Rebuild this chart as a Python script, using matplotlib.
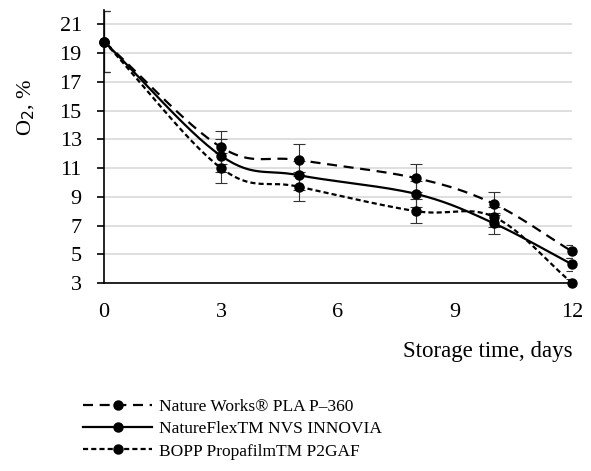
import numpy as np
import matplotlib
matplotlib.use("Agg")
import matplotlib.pyplot as plt
from matplotlib.lines import Line2D

plt.rcParams['font.family'] = ['Liberation Serif', 'DejaVu Serif']

days = [0, 3, 5, 8, 10, 12]
pla = [19.8, 12.45, 11.55, 10.3, 8.5, 5.2]
pla_err = [2.1, 1.15, 1.1, 1.0, 0.8, 0.45]
nflex = [19.8, 11.85, 10.5, 9.2, 7.15, 4.3]
nflex_err = [2.1, 1.15, 1.0, 0.9, 0.75, 0.45]
bopp = [19.8, 11.0, 9.7, 8.0, 7.6, 3.0]
bopp_err = [2.1, 1.05, 1.0, 0.85, 0.7, 0.3]
labels = ["Nature Works® PLA P–360", "NatureFlexTM NVS INNOVIA", "BOPP PropafilmTM P2GAF"]
xticks = [0, 3, 6, 9, 12]
yticks = [3, 5, 7, 9, 11, 13, 15, 17, 19, 21]


def smooth(x, y, n=30, t=0.5):
    x = np.asarray(x, float); y = np.asarray(y, float)
    px = np.concatenate([[2 * x[0] - x[1]], x, [2 * x[-1] - x[-2]]])
    py = np.concatenate([[2 * y[0] - y[1]], y, [2 * y[-1] - y[-2]]])
    xs, ys = [], []
    for i in range(1, len(px) - 2):
        p0 = np.array([px[i - 1], py[i - 1]]); p1 = np.array([px[i], py[i]])
        p2 = np.array([px[i + 1], py[i + 1]]); p3 = np.array([px[i + 2], py[i + 2]])
        c1 = p1 + (p2 - p0) * t / 3
        c2 = p2 - (p3 - p1) * t / 3
        s = np.linspace(0, 1, n)[:, None]
        pts = (1 - s) ** 3 * p1 + 3 * (1 - s) ** 2 * s * c1 + 3 * (1 - s) * s ** 2 * c2 + s ** 3 * p2
        xs.extend(pts[:, 0]); ys.extend(pts[:, 1])
    return np.array(xs), np.array(ys)


fig = plt.figure(figsize=(5.91, 4.71), dpi=100)
ax = fig.add_axes([0.176, 0.399, 0.792, 0.58])

series = [(pla, pla_err, (0, (4.5, 3))), (nflex, nflex_err, '-'), (bopp, bopp_err, (0, (2.3, 1.4)))]
handles = []
for (vals, err, ls), lab in zip(series, labels):
    sx, sy = smooth(days, vals)
    ax.plot(sx, sy, color='black', lw=1.6, linestyle=ls, zorder=3)
    ax.errorbar(days, vals, yerr=err, fmt='none', ecolor='#333333', elinewidth=0.8,
                capsize=4, capthick=0.8, zorder=2)
    ax.plot(days, vals, 'o', color='black', ms=6.5, zorder=4, clip_on=False)
    handles.append(Line2D([], [], color='black', lw=1.6, linestyle=ls, marker='o', ms=6.5))

ax.set_xlim(0, 12)
ax.set_ylim(3, 22)
ax.set_xticks(xticks)
ax.set_yticks(yticks)
ax.tick_params(axis='x', length=0, labelsize=16, pad=14)
ax.tick_params(axis='y', length=5, width=1.2, direction='out', labelsize=16, pad=11)
ax.yaxis.grid(True, color='#d9d9d9', lw=1.2)
ax.set_axisbelow(True)
for s in ['top', 'right']:
    ax.spines[s].set_visible(False)
ax.spines['left'].set_linewidth(1.2)
ax.spines['bottom'].set_linewidth(1.2)

fig.text(26 / 591, 1 - 107 / 471, "O$_2$, %", rotation=90, ha='center', va='center', fontsize=16)
fig.text(573 / 591, 1 - 352 / 471, "Storage time, days", ha='right', va='center', fontsize=16.5)

fig.legend(handles, labels, loc='upper left', bbox_to_anchor=(76 / 591, 1 - 392 / 471),
           frameon=False, fontsize=12.5, handlelength=4.0, handletextpad=0.4,
           labelspacing=0.35, borderaxespad=0)

fig.savefig("out.png", dpi=100)
